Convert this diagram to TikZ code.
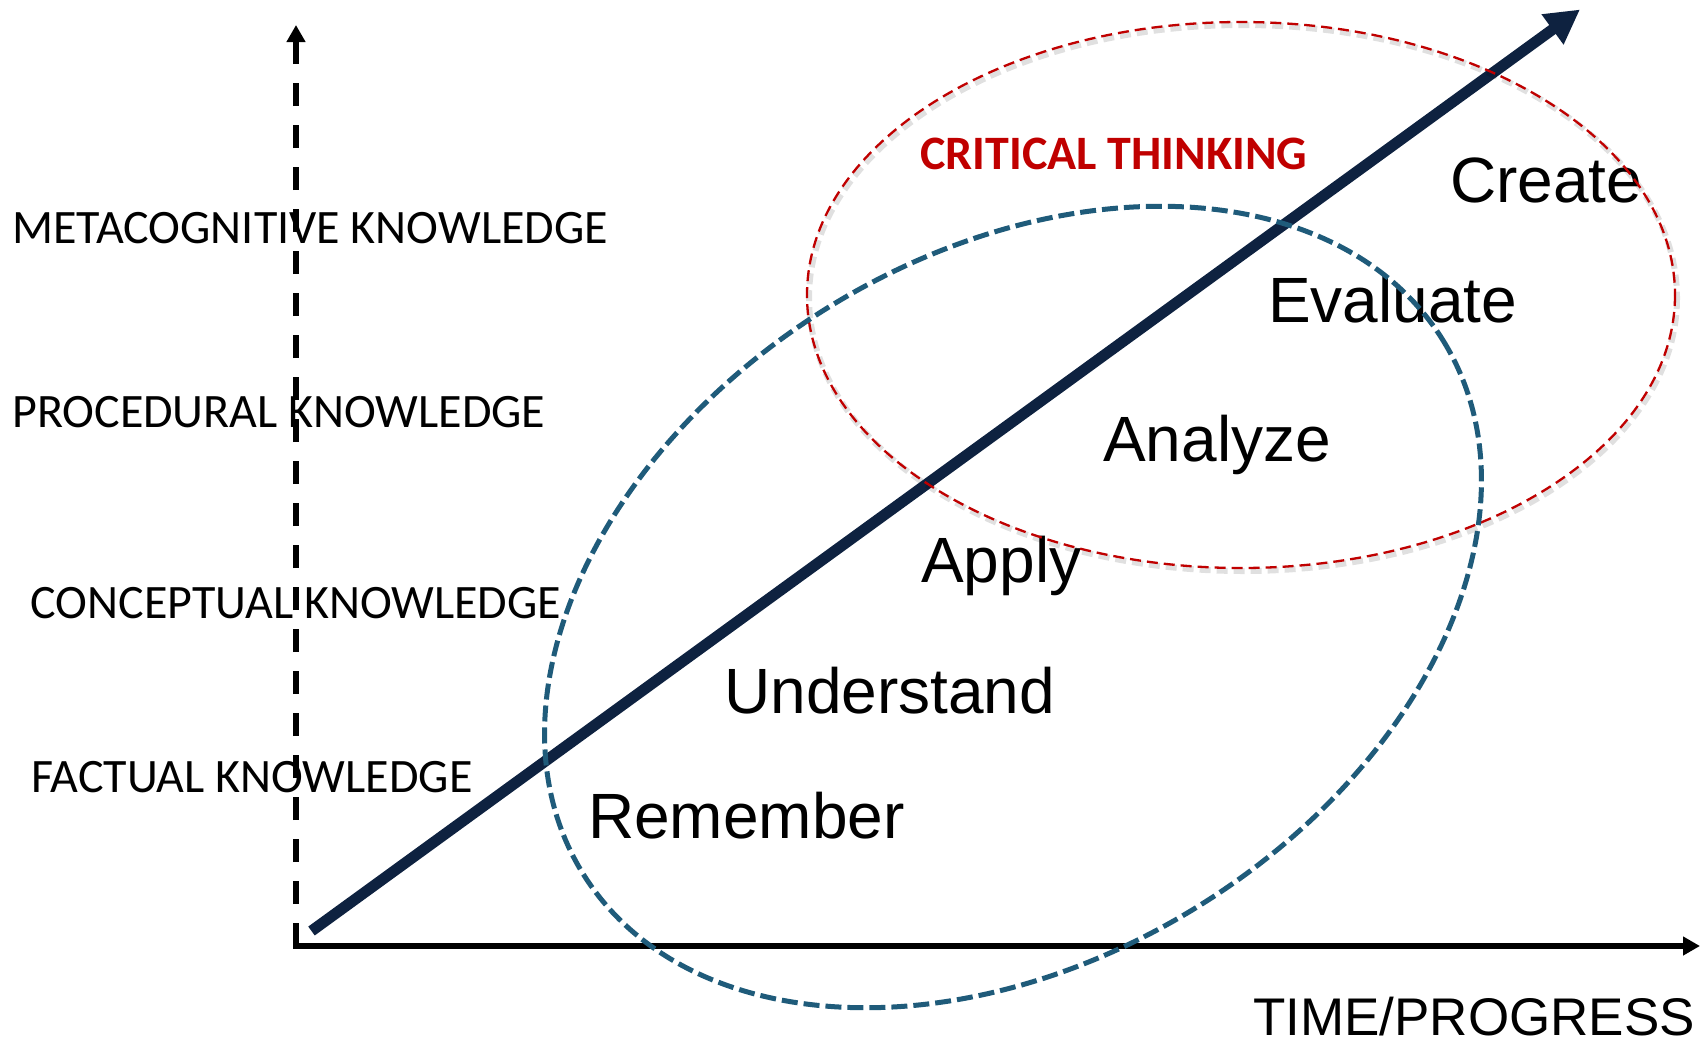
\documentclass[tikz,border=0pt]{standalone}
\usepackage{fontspec}
\setmainfont{Liberation Sans}
\newfontfamily\calibri{Carlito}
\usetikzlibrary{arrows.meta}
\definecolor{navy}{HTML}{0E2240}
\definecolor{ellblue}{HTML}{1F5B7A}
\definecolor{ctred}{HTML}{C00000}
\definecolor{bgA}{HTML}{EBEBEB}
\definecolor{bgB}{HTML}{DEDEDE}
\pgfdeclareradialshading{vign}{\pgfpoint{0bp}{0bp}}{color(0bp)=(white); color(37bp)=(white); color(45bp)=(bgA); color(50bp)=(bgB)}
\begin{document}
\begin{tikzpicture}[x=1pt,y=-1pt,
  kn/.style={anchor=base west, inner sep=0pt, font=\calibri\fontsize{48}{56}\selectfont},
  big/.style={anchor=base west, inner sep=0pt, font=\fontsize{64}{72}\selectfont},
  axisline/.style={line width=5.3pt, black},
  axtip/.style={-{Triangle[length=17pt,width=18pt]}},
  redell/.style={ctred, line width=2.3pt, dash pattern=on 11pt off 6pt},
  redshadow/.style={black, opacity=0.12, line width=6pt, dash pattern=on 11pt off 6pt},
  blueell/.style={ellblue, line width=5pt, dash pattern=on 16pt off 6pt},
  mainarrow/.style={navy, line width=11pt, -{Triangle[length=34pt,width=35pt]}}
]
\useasboundingbox (0,0) rectangle (1705,1042);
\begin{scope}
  \clip (0,0) rectangle (1705,1042);
  \shade[shading=vign] (-400,-350) rectangle (2600,2650);
\end{scope}

% level labels
\node[kn] (meta) at (12,243) {METACOGNITIVE KNOWLEDGE};
\node[kn] (proc) at (12,427) {PROCEDURAL KNOWLEDGE};
\node[kn] (conc) at (30.5,618) {CONCEPTUAL KNOWLEDGE};
\node[kn] (fact) at (31,792) {FACTUAL KNOWLEDGE};
\node[kn, font=\calibri\bfseries\fontsize{48}{56}\selectfont, text=ctred] (crit) at (920,169) {CRITICAL THINKING};

% Bloom levels
\node[big] (create) at (1450,202) {Create};
\node[big] (eval) at (1268,322) {Evaluate};
\node[big] (anal) at (1103,461) {Analyze};
\node[big] (apply) at (921,582) {Apply};
\node[big] (under) at (724,713) {Understand};
\node[big] (remem) at (588,838) {Remember};
\node[big, font=\fontsize{53}{60}\selectfont, text depth=0pt] (time) at (1253,1035) {TIME/PROGRESS};

% axes
\coordinate (O) at (296,946);
\coordinate (ytop) at (296,25);
\coordinate (xend) at (1700,946);
\draw[axisline, dash pattern=on 23pt off 19pt, axtip] (O) -- (ytop);
\draw[axisline, axtip] ([xshift=-2.65pt]O) -- (xend);

% main progress arrow
\coordinate (pstart) at (311.5,931);
\coordinate (pend) at (1580,9.5);
\draw[mainarrow] (pstart) -- (pend);

% ellipses
\draw[redshadow] (1243,298) ellipse [x radius=434, y radius=273];
\draw[redell] (1241,295) ellipse [x radius=434, y radius=273];
\draw[blueell, rotate around={31.8:(1013,607)}] (1013,607) ellipse [x radius=506, y radius=352];
\end{tikzpicture}
\end{document}
